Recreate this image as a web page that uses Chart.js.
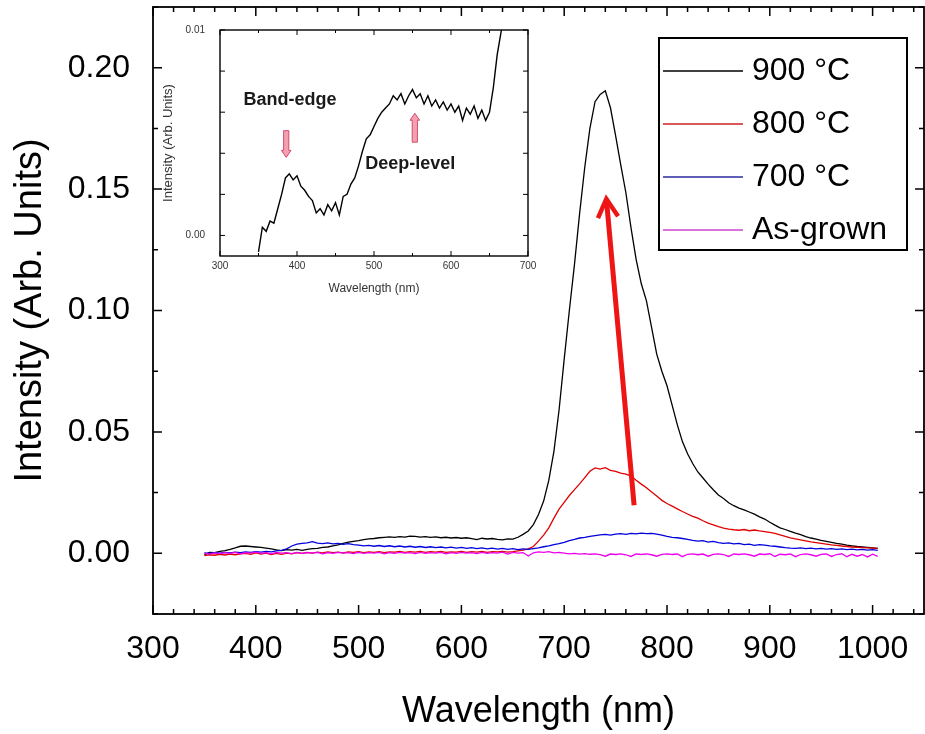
<!DOCTYPE html>
<html lang="en">
<head>
  <meta charset="UTF-8">
  <title>PL spectra vs. annealing temperature</title>
  <script src="https://cdn.jsdelivr.net/npm/chart.js"></script>
  <style>
    body { margin: 0; background: #fff; }
    #wrap { position: relative; width: 925px; height: 734px; }
    #main { position: absolute; left: 0; top: 0; }
    #inset { position: absolute; left: 155px; top: 18px; }
  </style>
</head>
<body>
<div id="wrap">
  <canvas id="main" width="925" height="734"></canvas>
  <canvas id="inset" width="390" height="290"></canvas>
</div>
<script>
  // Wavelength (nm), one sample every 5 nm
  const wavelength = [
    350, 355, 360, 365, 370, 375, 380, 385, 390, 395,
    400, 405, 410, 415, 420, 425, 430, 435, 440, 445,
    450, 455, 460, 465, 470, 475, 480, 485, 490, 495,
    500, 505, 510, 515, 520, 525, 530, 535, 540, 545,
    550, 555, 560, 565, 570, 575, 580, 585, 590, 595,
    600, 605, 610, 615, 620, 625, 630, 635, 640, 645,
    650, 655, 660, 665, 670, 675, 680, 685, 690, 695,
    700, 705, 710, 715, 720, 725, 730, 735, 740, 745,
    750, 755, 760, 765, 770, 775, 780, 785, 790, 795,
    800, 805, 810, 815, 820, 825, 830, 835, 840, 845,
    850, 855, 860, 865, 870, 875, 880, 885, 890, 895,
    900, 905, 910, 915, 920, 925, 930, 935, 940, 945,
    950, 955, 960, 965, 970, 975, 980, 985, 990, 995,
    1000, 1005
  ];

  const t900 = [
    -0.0006, 0.0004, 0.0003, 0.0008, 0.0011, 0.0016, 0.0022, 0.0029, 0.0030, 0.0028,
    0.0026, 0.0024, 0.0021, 0.0018, 0.0014, 0.0011, 0.0015, 0.0013, 0.0016, 0.0012,
    0.0016, 0.0019, 0.0020, 0.0024, 0.0026, 0.0031, 0.0035, 0.0041, 0.0046, 0.0049,
    0.0052, 0.0056, 0.0059, 0.0061, 0.0064, 0.0066, 0.0068, 0.0066, 0.0069, 0.0067,
    0.0071, 0.0070, 0.0067, 0.0069, 0.0066, 0.0068, 0.0064, 0.0066, 0.0063, 0.0065,
    0.0062, 0.0064, 0.0060, 0.0056, 0.0062, 0.0059, 0.0061, 0.0057, 0.0055, 0.0059,
    0.0058, 0.0066, 0.0078, 0.0092, 0.0118, 0.0160, 0.0215, 0.0300, 0.0420, 0.0590,
    0.0800, 0.1000, 0.1190, 0.1400, 0.1590, 0.1750, 0.1860, 0.1890, 0.1905, 0.1835,
    0.1720, 0.1600, 0.1485, 0.1340, 0.1210, 0.1110, 0.1040, 0.0930, 0.0820, 0.0750,
    0.0690, 0.0610, 0.0530, 0.0460, 0.0410, 0.0370, 0.0335, 0.0310, 0.0285, 0.0262,
    0.0240, 0.0226, 0.0208, 0.0196, 0.0186, 0.0179, 0.0170, 0.0161, 0.0150, 0.0141,
    0.0128, 0.0116, 0.0105, 0.0098, 0.0090, 0.0083, 0.0077, 0.0069, 0.0063, 0.0058,
    0.0053, 0.0049, 0.0045, 0.0041, 0.0038, 0.0034, 0.0031, 0.0028, 0.0026, 0.0024,
    0.0022, 0.0020
  ];

  const t800 = [
    -0.0010, -0.0006, -0.0008, -0.0004, -0.0007, -0.0003, -0.0006, -0.0002, 0.0000, -0.0004,
    0.0002, -0.0003, 0.0001, -0.0005, 0.0000, -0.0004, 0.0001, -0.0002, 0.0003, 0.0000,
    0.0004, 0.0001, 0.0005, 0.0002, 0.0006, 0.0003, 0.0005, 0.0002, 0.0006, 0.0004,
    0.0007, 0.0003, 0.0006, 0.0004, 0.0007, 0.0003, 0.0006, 0.0005, 0.0008, 0.0004,
    0.0007, 0.0005, 0.0008, 0.0004, 0.0007, 0.0005, 0.0008, 0.0004, 0.0006, 0.0005,
    0.0008, 0.0004, 0.0007, 0.0005, 0.0008, 0.0004, 0.0007, 0.0006, 0.0008, 0.0005,
    0.0007, 0.0010, 0.0013, 0.0018, 0.0028, 0.0050, 0.0075, 0.0105, 0.0145, 0.0182,
    0.0210, 0.0238, 0.0262, 0.0286, 0.0312, 0.0338, 0.0352, 0.0347, 0.0353, 0.0342,
    0.0337, 0.0330, 0.0326, 0.0318, 0.0301, 0.0285, 0.0270, 0.0252, 0.0236, 0.0218,
    0.0205, 0.0194, 0.0183, 0.0172, 0.0162, 0.0152, 0.0145, 0.0134, 0.0124, 0.0117,
    0.0110, 0.0104, 0.0100, 0.0097, 0.0095, 0.0098, 0.0093, 0.0096, 0.0092, 0.0089,
    0.0086, 0.0082, 0.0076, 0.0070, 0.0064, 0.0059, 0.0055, 0.0051, 0.0047, 0.0044,
    0.0041, 0.0038, 0.0035, 0.0033, 0.0030, 0.0028, 0.0026, 0.0025, 0.0023, 0.0022,
    0.0021, 0.0020
  ];

  const t700 = [
    0.0002, 0.0000, 0.0003, 0.0001, 0.0004, 0.0002, 0.0005, 0.0003, 0.0006, 0.0004,
    0.0007, 0.0005, 0.0008, 0.0006, 0.0010, 0.0012, 0.0018, 0.0030, 0.0038, 0.0041,
    0.0043, 0.0048, 0.0042, 0.0040, 0.0043, 0.0039, 0.0041, 0.0037, 0.0040, 0.0036,
    0.0034, 0.0031, 0.0033, 0.0029, 0.0032, 0.0028, 0.0031, 0.0027, 0.0030, 0.0026,
    0.0029, 0.0025, 0.0028, 0.0024, 0.0027, 0.0023, 0.0026, 0.0022, 0.0025, 0.0021,
    0.0024, 0.0020, 0.0023, 0.0019, 0.0022, 0.0018, 0.0021, 0.0017, 0.0020, 0.0016,
    0.0019, 0.0015, 0.0018, 0.0016, 0.0019, 0.0022, 0.0027, 0.0031, 0.0036, 0.0040,
    0.0045, 0.0052, 0.0057, 0.0063, 0.0066, 0.0070, 0.0073, 0.0076, 0.0078, 0.0075,
    0.0079, 0.0081, 0.0078, 0.0082, 0.0080, 0.0083, 0.0081, 0.0082, 0.0079, 0.0075,
    0.0070, 0.0066, 0.0064, 0.0061, 0.0057, 0.0053, 0.0050, 0.0052, 0.0046, 0.0049,
    0.0044, 0.0041, 0.0043, 0.0039, 0.0041, 0.0036, 0.0038, 0.0033, 0.0036, 0.0034,
    0.0031, 0.0029, 0.0026, 0.0023, 0.0021, 0.0020, 0.0022, 0.0019, 0.0021, 0.0018,
    0.0020, 0.0017, 0.0019, 0.0016, 0.0018, 0.0015, 0.0017, 0.0014, 0.0016, 0.0013,
    0.0015, 0.0012
  ];

  const asGrown = [
    0.0000, -0.0003, 0.0002, -0.0001, 0.0003, 0.0000, 0.0004, -0.0002, 0.0003, 0.0001,
    0.0005, 0.0000, 0.0003, -0.0002, 0.0004, 0.0001, 0.0003, -0.0001, 0.0004, 0.0000,
    0.0003, 0.0001, 0.0004, -0.0002, 0.0003, 0.0000, 0.0004, 0.0001, 0.0003, -0.0001,
    0.0004, 0.0000, 0.0003, 0.0001, 0.0004, -0.0002, 0.0003, 0.0000, 0.0004, 0.0001,
    0.0003, -0.0001, 0.0004, 0.0000, 0.0003, 0.0001, 0.0004, -0.0002, 0.0003, 0.0000,
    0.0004, 0.0001, 0.0003, -0.0001, 0.0004, 0.0000, 0.0003, 0.0001, 0.0005, -0.0003,
    0.0004, 0.0001, 0.0003, -0.0011, 0.0002, 0.0006, 0.0004, 0.0007, 0.0002, 0.0004,
    0.0001, -0.0002, 0.0000, -0.0003, -0.0001, -0.0004, -0.0002, -0.0005, -0.0012, -0.0003,
    -0.0005, -0.0002, -0.0006, -0.0013, -0.0003, -0.0005, -0.0002, -0.0006, -0.0012, -0.0004,
    -0.0002, -0.0005, -0.0003, -0.0014, -0.0004, -0.0002, -0.0006, -0.0003, -0.0012, -0.0004,
    -0.0002, -0.0005, -0.0013, -0.0003, -0.0005, -0.0002, -0.0006, -0.0012, -0.0003, -0.0005,
    -0.0002, -0.0013, -0.0004, -0.0006, -0.0003, -0.0014, -0.0005, -0.0002, -0.0006, -0.0012,
    -0.0004, -0.0003, -0.0013, -0.0005, -0.0002, -0.0014, -0.0004, -0.0012, -0.0005, -0.0015,
    -0.0004, -0.0013
  ];

  const seriesLabels = ['900 \u00B0C', '800 \u00B0C', '700 \u00B0C', 'As-grown'];
  const xTickValues = [300, 400, 500, 600, 700, 800, 900, 1000];
  const yTickValues = [0, 0.05, 0.10, 0.15, 0.20];

  // inset: zoom on the 900 C spectrum below 0.01
  const insetWavelength = [
    350, 355, 360, 365, 370, 375, 380, 385, 390, 395,
    400, 405, 410, 415, 420, 425, 430, 435, 440, 445,
    450, 455, 460, 465, 470, 475, 480, 485, 490, 495,
    500, 505, 510, 515, 520, 525, 530, 535, 540, 545,
    550, 555, 560, 565, 570, 575, 580, 585, 590, 595,
    600, 605, 610, 615, 620, 625, 630, 635, 640, 645,
    650, 655, 660, 665, 670
  ];
  const insetIntensity = [
    -0.0008, 0.0004, 0.0002, 0.0007, 0.0006, 0.0013, 0.0020, 0.0028, 0.0030, 0.0027,
    0.0029, 0.0024, 0.0022, 0.0019, 0.0017, 0.0011, 0.0013, 0.0010, 0.0015, 0.0012,
    0.0016, 0.0010, 0.0019, 0.0020, 0.0025, 0.0028, 0.0034, 0.0041, 0.0047, 0.0049,
    0.0053, 0.0057, 0.0060, 0.0062, 0.0064, 0.0068, 0.0066, 0.0069, 0.0064, 0.0068,
    0.0071, 0.0067, 0.0069, 0.0064, 0.0068, 0.0063, 0.0066, 0.0062, 0.0065, 0.0061,
    0.0064, 0.0060, 0.0063, 0.0056, 0.0062, 0.0059, 0.0063, 0.0057, 0.0061, 0.0056,
    0.0060, 0.0072, 0.0088, 0.0099, 0.0108
  ];
  const insetXTicks = [300, 400, 500, 600, 700];
  const insetYTicks = [0, 0.01];

  // annotations, in data units
  const bigArrow = { from: [768, 0.0198], to: [741, 0.146] };
  const insetNotes = [
    { text: 'Band-edge', x: 391, y: 0.0066 },
    { text: 'Deep-level', x: 547, y: 0.0035 }
  ];
  const insetArrows = [
    { x: 386, from: 0.0051, to: 0.0038 },
    { x: 553, from: 0.00454, to: 0.00595 }
  ];

  const FONT = "'Liberation Sans', Arial, sans-serif";
  const colors = ['#000000', '#e00000', '#0000dd', '#ee00ee'];
  const legendColors = ['#000000', '#cc2222', '#2a2aa0', '#cc44cc'];

  function toPoints(xs, ys) {
    return xs.map((x, i) => ({ x: x, y: ys[i] }));
  }

  function stepValues(min, max, step) {
    const out = [];
    const k0 = Math.ceil(min / step - 1e-6), k1 = Math.floor(max / step + 1e-6);
    for (let k = k0; k <= k1; k++) out.push(k * step);
    return out;
  }
  function isMultiple(v, m) {
    return Math.abs(v / m - Math.round(v / m)) < 1e-6;
  }

  // keep the plot box exactly where the scale widths put it
  function noEdgePadding(s) {
    s.paddingTop = 0; s.paddingBottom = 0; s.paddingLeft = 0; s.paddingRight = 0;
  }

  // box around the plot with inward ticks on all four sides
  const frameTicks = {
    id: 'frameTicks',
    afterDraw(chart, args, o) {
      const { ctx, chartArea: a } = chart;
      const xs = chart.scales.x, ys = chart.scales.y;
      ctx.save();
      ctx.strokeStyle = '#000';
      ctx.lineWidth = o.lineWidth;
      ctx.beginPath();
      stepValues(xs.min, xs.max, o.xMinor).forEach(v => {
        const p = xs.getPixelForValue(v);
        const len = isMultiple(v, o.xMajor) ? o.majorLen : o.minorLen;
        ctx.moveTo(p, a.bottom); ctx.lineTo(p, a.bottom - len);
        ctx.moveTo(p, a.top); ctx.lineTo(p, a.top + len);
      });
      stepValues(ys.min, ys.max, o.yMinor).forEach(v => {
        const p = ys.getPixelForValue(v);
        const len = isMultiple(v, o.yMajor) ? o.majorLen : o.minorLen;
        ctx.moveTo(a.left, p); ctx.lineTo(a.left + len, p);
        ctx.moveTo(a.right, p); ctx.lineTo(a.right - len, p);
      });
      ctx.stroke();
      ctx.lineWidth = o.frameWidth;
      ctx.strokeRect(a.left, a.top, a.right - a.left, a.bottom - a.top);
      ctx.restore();
    }
  };

  const trendArrow = {
    id: 'trendArrow',
    afterDatasetsDraw(chart) {
      const { ctx } = chart;
      const xs = chart.scales.x, ys = chart.scales.y;
      const x0 = xs.getPixelForValue(bigArrow.from[0]), y0 = ys.getPixelForValue(bigArrow.from[1]);
      const x1 = xs.getPixelForValue(bigArrow.to[0]), y1 = ys.getPixelForValue(bigArrow.to[1]);
      const ang = Math.atan2(y0 - y1, x0 - x1);
      const head = 21, spread = 0.5;
      ctx.save();
      ctx.strokeStyle = '#ee1515';
      ctx.lineWidth = 5;
      ctx.lineCap = 'butt';
      ctx.beginPath();
      ctx.moveTo(x0, y0); ctx.lineTo(x1, y1);
      ctx.stroke();
      ctx.lineJoin = 'miter';
      ctx.lineWidth = 4.5;
      ctx.beginPath();
      ctx.moveTo(x1 + head * Math.cos(ang - spread), y1 + head * Math.sin(ang - spread));
      ctx.lineTo(x1, y1);
      ctx.lineTo(x1 + head * Math.cos(ang + spread), y1 + head * Math.sin(ang + spread));
      ctx.stroke();
      ctx.restore();
    }
  };

  const boxLegend = {
    id: 'boxLegend',
    afterDraw(chart, args, o) {
      const { ctx } = chart;
      ctx.save();
      ctx.fillStyle = '#fff';
      ctx.fillRect(o.left, o.top, o.width, o.height);
      ctx.strokeStyle = '#000';
      ctx.lineWidth = 2;
      ctx.strokeRect(o.left, o.top, o.width, o.height);
      ctx.font = o.fontSize + 'px ' + FONT;
      ctx.textBaseline = 'middle';
      ctx.textAlign = 'left';
      chart.data.datasets.forEach((ds, i) => {
        const y = o.top + o.firstRow + i * o.rowStep;
        ctx.strokeStyle = legendColors[i];
        ctx.lineWidth = 1.6;
        ctx.beginPath();
        ctx.moveTo(o.left + 4, y); ctx.lineTo(o.left + 4 + o.lineLen, y);
        ctx.stroke();
        ctx.fillStyle = '#000';
        ctx.fillText(ds.label, o.left + o.textOffset, y);
      });
      ctx.restore();
    }
  };

  const insetMarks = {
    id: 'insetMarks',
    afterDraw(chart) {
      const { ctx } = chart;
      const xs = chart.scales.x, ys = chart.scales.y;
      ctx.save();
      insetArrows.forEach(a => {
        const px = xs.getPixelForValue(a.x);
        const y0 = ys.getPixelForValue(a.from), y1 = ys.getPixelForValue(a.to);
        const s = y1 > y0 ? 1 : -1, hw = 2.6, hh = 4.8, hl = 7;
        ctx.beginPath();
        ctx.moveTo(px - hw, y0);
        ctx.lineTo(px - hw, y1 - s * hl);
        ctx.lineTo(px - hh, y1 - s * hl);
        ctx.lineTo(px, y1);
        ctx.lineTo(px + hh, y1 - s * hl);
        ctx.lineTo(px + hw, y1 - s * hl);
        ctx.lineTo(px + hw, y0);
        ctx.closePath();
        ctx.fillStyle = '#f4a0b2';
        ctx.fill();
        ctx.strokeStyle = '#d24d6c';
        ctx.lineWidth = 1;
        ctx.stroke();
      });
      ctx.font = 'bold 18px ' + FONT;
      ctx.fillStyle = '#1a1a1a';
      ctx.textAlign = 'center';
      ctx.textBaseline = 'middle';
      insetNotes.forEach(n => {
        ctx.fillText(n.text, xs.getPixelForValue(n.x), ys.getPixelForValue(n.y));
      });
      ctx.restore();
    }
  };

  new Chart(document.getElementById('main'), {
    type: 'line',
    data: {
      datasets: [
        { label: seriesLabels[0], data: toPoints(wavelength, t900), borderColor: colors[0], order: 4 },
        { label: seriesLabels[1], data: toPoints(wavelength, t800), borderColor: colors[1], order: 3 },
        { label: seriesLabels[2], data: toPoints(wavelength, t700), borderColor: colors[2], order: 2 },
        { label: seriesLabels[3], data: toPoints(wavelength, asGrown), borderColor: colors[3], order: 1 }
      ]
    },
    options: {
      responsive: false,
      animation: false,
      devicePixelRatio: 1,
      layout: { padding: { top: 7, right: 1, left: 0, bottom: 0 } },
      elements: { point: { radius: 0 }, line: { borderWidth: 1.3, tension: 0 } },
      plugins: {
        legend: { display: false },
        tooltip: { enabled: false },
        frameTicks: { lineWidth: 1.5, frameWidth: 1.8, xMinor: 20, xMajor: 100, yMinor: 0.025, yMajor: 0.05, majorLen: 9, minorLen: 5 },
        boxLegend: { left: 659, top: 38, width: 248, height: 212, firstRow: 33, rowStep: 53, lineLen: 80, textOffset: 93, fontSize: 32 }
      },
      scales: {
        x: {
          type: 'linear', min: 300, max: 1050,
          afterFit: s => { s.height = 120; noEdgePadding(s); },
          afterBuildTicks: s => { s.ticks = xTickValues.map(v => ({ value: v })); },
          grid: { display: false, drawTicks: false },
          border: { display: false },
          ticks: { font: { family: FONT, size: 32 }, color: '#000', padding: 16, maxRotation: 0, autoSkip: false, callback: v => String(v) },
          title: { display: true, text: 'Wavelength (nm)', font: { family: FONT, size: 36 }, color: '#000', padding: { top: 0, bottom: 0 } }
        },
        y: {
          type: 'linear', min: -0.025, max: 0.225,
          afterFit: s => { s.width = 153; noEdgePadding(s); },
          afterBuildTicks: s => { s.ticks = yTickValues.map(v => ({ value: v })); },
          grid: { display: false, drawTicks: false },
          border: { display: false },
          ticks: { font: { family: FONT, size: 32 }, color: '#000', padding: 23, callback: v => v.toFixed(2) },
          title: { display: true, text: 'Intensity (Arb. Units)', font: { family: FONT, size: 38 }, color: '#000', padding: { top: 8, bottom: 0 } }
        }
      }
    },
    plugins: [frameTicks, trendArrow, boxLegend]
  });

  new Chart(document.getElementById('inset'), {
    type: 'line',
    data: {
      datasets: [
        { label: '900 \u00B0C', data: toPoints(insetWavelength, insetIntensity), borderColor: '#000', borderWidth: 1.4 }
      ]
    },
    options: {
      responsive: false,
      animation: false,
      devicePixelRatio: 1,
      layout: { padding: { top: 12, right: 17, left: 0, bottom: 0 } },
      elements: { point: { radius: 0 }, line: { tension: 0 } },
      plugins: {
        legend: { display: false },
        tooltip: { enabled: false },
        frameTicks: { lineWidth: 1, frameWidth: 1.4, xMinor: 50, xMajor: 100, yMinor: 0.002, yMajor: 0.002, majorLen: 5, minorLen: 3 }
      },
      scales: {
        x: {
          type: 'linear', min: 300, max: 700,
          afterFit: s => { s.height = 52; noEdgePadding(s); },
          afterBuildTicks: s => { s.ticks = insetXTicks.map(v => ({ value: v })); },
          grid: { display: false, drawTicks: false },
          border: { display: false },
          ticks: { font: { family: FONT, size: 10 }, color: '#333', padding: 4, maxRotation: 0, autoSkip: false, callback: v => String(v) },
          title: { display: true, text: 'Wavelength (nm)', font: { family: FONT, size: 12 }, color: '#333', padding: { top: 0, bottom: 12 } }
        },
        y: {
          type: 'linear', min: -0.001, max: 0.01,
          afterFit: s => { s.width = 65; noEdgePadding(s); },
          afterBuildTicks: s => { s.ticks = insetYTicks.map(v => ({ value: v })); },
          grid: { display: false, drawTicks: false },
          border: { display: false },
          ticks: { font: { family: FONT, size: 10 }, color: '#333', padding: 15, callback: v => v.toFixed(2) },
          title: { display: true, text: 'Intensity (Arb. Units)', font: { family: FONT, size: 13 }, color: '#333', padding: { top: 6, bottom: 0 } }
        }
      }
    },
    plugins: [frameTicks, insetMarks]
  });
</script>
</body>
</html>
